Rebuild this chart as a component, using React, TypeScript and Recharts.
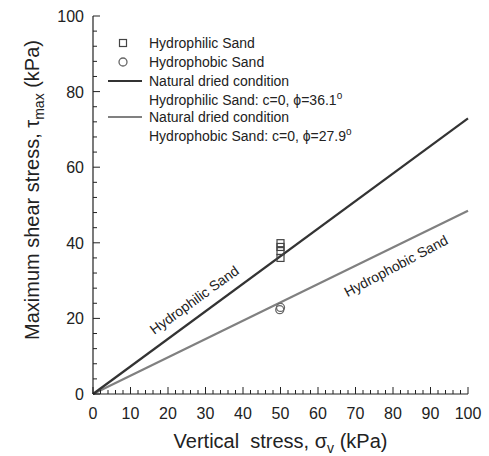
import React from "react";
import { ComposedChart, Line, Scatter, XAxis, YAxis, ReferenceDot } from "recharts";

// measured points (sigma_v = 50 kPa)
const hydrophilicPts = [
  { x: 50, y: 36.0 },
  { x: 50, y: 37.8 },
  { x: 50, y: 38.9 },
  { x: 50, y: 39.9 },
];
const hydrophobicPts = [
  { x: 50, y: 22.9 },
  { x: 49.8, y: 22.3 },
];

// failure envelopes, c = 0
const hydrophilicFit = [
  { x: 0, y: 0 },
  { x: 100, y: 72.9 },
];
const hydrophobicFit = [
  { x: 0, y: 0 },
  { x: 100, y: 48.5 },
];

const xTicks = [
  0, 2, 4, 6, 8, 10, 12, 14, 16, 18, 20, 22, 24, 26, 28, 30, 32, 34, 36, 38, 40, 42, 44, 46, 48, 50,
  52, 54, 56, 58, 60, 62, 64, 66, 68, 70, 72, 74, 76, 78, 80, 82, 84, 86, 88, 90, 92, 94, 96, 98, 100,
];
const yTicks = [0, 4, 8, 12, 16, 20, 24, 28, 32, 36, 40, 44, 48, 52, 56, 60, 64, 68, 72, 76, 80, 84, 88, 92, 96, 100];

const FONT = "'Liberation Sans', Arial, sans-serif";
const INK = "#222";
const DARK = "#333";
const GREY = "#808080";

function BottomTick({ x, y, payload }: any) {
  const v = payload.value;
  const major = v % 10 === 0;
  return (
    <g>
      <line x1={x} x2={x} y1={y} y2={y - (major ? 7 : 4)} stroke={INK} />
      {major && (
        <text x={x} y={y + 25} textAnchor="middle" fontSize={16} fontFamily={FONT} fill={INK}>
          {v}
        </text>
      )}
    </g>
  );
}

function TopTick({ x, y, payload }: any) {
  const major = payload.value % 10 === 0;
  return <line x1={x} x2={x} y1={y} y2={y + (major ? 7 : 4)} stroke={INK} />;
}

function LeftTick({ x, y, payload }: any) {
  const v = payload.value;
  const major = v % 20 === 0;
  return (
    <g>
      <line x1={x} x2={x + (major ? 7 : 4)} y1={y} y2={y} stroke={INK} />
      {major && (
        <text x={x - 9} y={y + 6} textAnchor="end" fontSize={16} fontFamily={FONT} fill={INK}>
          {v}
        </text>
      )}
    </g>
  );
}

function RightTick({ x, y, payload }: any) {
  const major = payload.value % 20 === 0;
  return <line x1={x} x2={x - (major ? 7 : 4)} y1={y} y2={y} stroke={INK} />;
}

const squareShape = (p: any) => (
  <rect x={p.cx - 3.5} y={p.cy - 3.5} width={7} height={7} fill="none" stroke="#444" strokeWidth={1.2} />
);
const circleShape = (p: any) => <circle cx={p.cx} cy={p.cy} r={4} fill="none" stroke="#666" strokeWidth={1.3} />;

const lineLabel = (text: string, angle: number) => (p: any) => (
  <text
    x={p.cx}
    y={p.cy}
    transform={`rotate(${-angle} ${p.cx} ${p.cy})`}
    textAnchor="middle"
    dominantBaseline="central"
    fontSize={14}
    fontFamily={FONT}
    fill={INK}
  >
    {text}
  </text>
);

function XTitle({ viewBox }: any) {
  const cx = viewBox.x + viewBox.width / 2;
  return (
    <text x={cx} y={448} textAnchor="middle" fontSize={20} fontFamily={FONT} fill={INK}>
      {"Vertical\u00a0 stress, σ"}
      <tspan fontSize={14} dy={5}>v</tspan>
      <tspan dy={-5}> (kPa)</tspan>
    </text>
  );
}

function YTitle() {
  return (
    <text x={39} y={190} transform="rotate(-90 39 190)" textAnchor="middle" fontSize={20} fontFamily={FONT} fill={INK}>
      Maximum shear stress, τ
      <tspan fontSize={14} dy={5}>max</tspan>
      <tspan dy={-5}> (kPa)</tspan>
    </text>
  );
}

function LegendBox() {
  const t = { fontSize: 14, fontFamily: FONT, fill: INK };
  const rows = [43, 62, 81, 99.5, 117, 135.5];
  const mx = 123;
  const tx = 149;
  return (
    <g>
      <rect x={mx - 3.5} y={rows[0] - 3.5} width={7} height={7} fill="none" stroke="#444" strokeWidth={1.2} />
      <text x={tx} y={rows[0] + 5} {...t}>Hydrophilic Sand</text>
      <circle cx={mx} cy={rows[1]} r={4} fill="none" stroke="#666" strokeWidth={1.3} />
      <text x={tx} y={rows[1] + 5} {...t}>Hydrophobic Sand</text>
      <line x1={108} x2={142} y1={rows[2]} y2={rows[2]} stroke={DARK} strokeWidth={2.2} />
      <text x={tx} y={rows[2] + 5} {...t}>Natural dried condition</text>
      <text x={tx} y={rows[3] + 5} {...t}>
        Hydrophilic Sand: c=0, ϕ=36.1<tspan fontSize={10} dy={-6}>o</tspan>
      </text>
      <line x1={108} x2={142} y1={rows[4]} y2={rows[4]} stroke={GREY} strokeWidth={2.2} />
      <text x={tx} y={rows[4] + 5} {...t}>Natural dried condition</text>
      <text x={tx} y={rows[5] + 5} {...t}>
        Hydrophobic Sand: c=0, ϕ=27.9<tspan fontSize={10} dy={-6}>o</tspan>
      </text>
    </g>
  );
}

export default function App() {
  return (
    <div style={{ position: "absolute", left: 0, top: 0, width: 489, height: 456, background: "#fff" }}>
      <ComposedChart width={489} height={456} margin={{ top: 16, right: 21, bottom: 0, left: 0 }}>
        <XAxis
          xAxisId="b"
          type="number"
          dataKey="x"
          domain={[0, 100]}
          ticks={xTicks}
          interval={0}
          height={62}
          tickSize={0}
          tickMargin={0}
          tickLine={false}
          axisLine={{ stroke: INK, strokeWidth: 1.2 }}
          tick={<BottomTick />}
          label={<XTitle />}
        />
        <XAxis
          xAxisId="t"
          orientation="top"
          type="number"
          dataKey="x"
          domain={[0, 100]}
          ticks={xTicks}
          interval={0}
          height={0}
          tickSize={0}
          tickMargin={0}
          tickLine={false}
          axisLine={{ stroke: INK, strokeWidth: 1.2 }}
          tick={<TopTick />}
        />
        <YAxis
          yAxisId="l"
          type="number"
          domain={[0, 100]}
          ticks={yTicks}
          interval={0}
          width={93}
          tickSize={0}
          tickMargin={0}
          tickLine={false}
          axisLine={{ stroke: INK, strokeWidth: 1.2 }}
          tick={<LeftTick />}
        />
        <YAxis
          yAxisId="r"
          orientation="right"
          type="number"
          domain={[0, 100]}
          ticks={yTicks}
          interval={0}
          width={0}
          tickSize={0}
          tickMargin={0}
          tickLine={false}
          axisLine={{ stroke: INK, strokeWidth: 1.2 }}
          tick={<RightTick />}
        />
        <Line
          xAxisId="b"
          yAxisId="l"
          data={hydrophobicFit}
          dataKey="y"
          type="linear"
          stroke={GREY}
          strokeWidth={2.2}
          dot={false}
          isAnimationActive={false}
        />
        <Line
          xAxisId="b"
          yAxisId="l"
          data={hydrophilicFit}
          dataKey="y"
          type="linear"
          stroke={DARK}
          strokeWidth={2.2}
          dot={false}
          isAnimationActive={false}
        />
        <Scatter xAxisId="b" yAxisId="l" data={hydrophilicPts} dataKey="y" shape={squareShape} isAnimationActive={false} />
        <Scatter xAxisId="b" yAxisId="l" data={hydrophobicPts} dataKey="y" shape={circleShape} isAnimationActive={false} />
        <ReferenceDot xAxisId="b" yAxisId="l" x={27} y={24.9} r={0} shape={lineLabel("Hydrophilic Sand", 36)} />
        <ReferenceDot xAxisId="b" yAxisId="l" x={80.8} y={33.9} r={0} shape={lineLabel("Hydrophobic Sand", 28)} />
        <LegendBox />
        <YTitle />
      </ComposedChart>
    </div>
  );
}
